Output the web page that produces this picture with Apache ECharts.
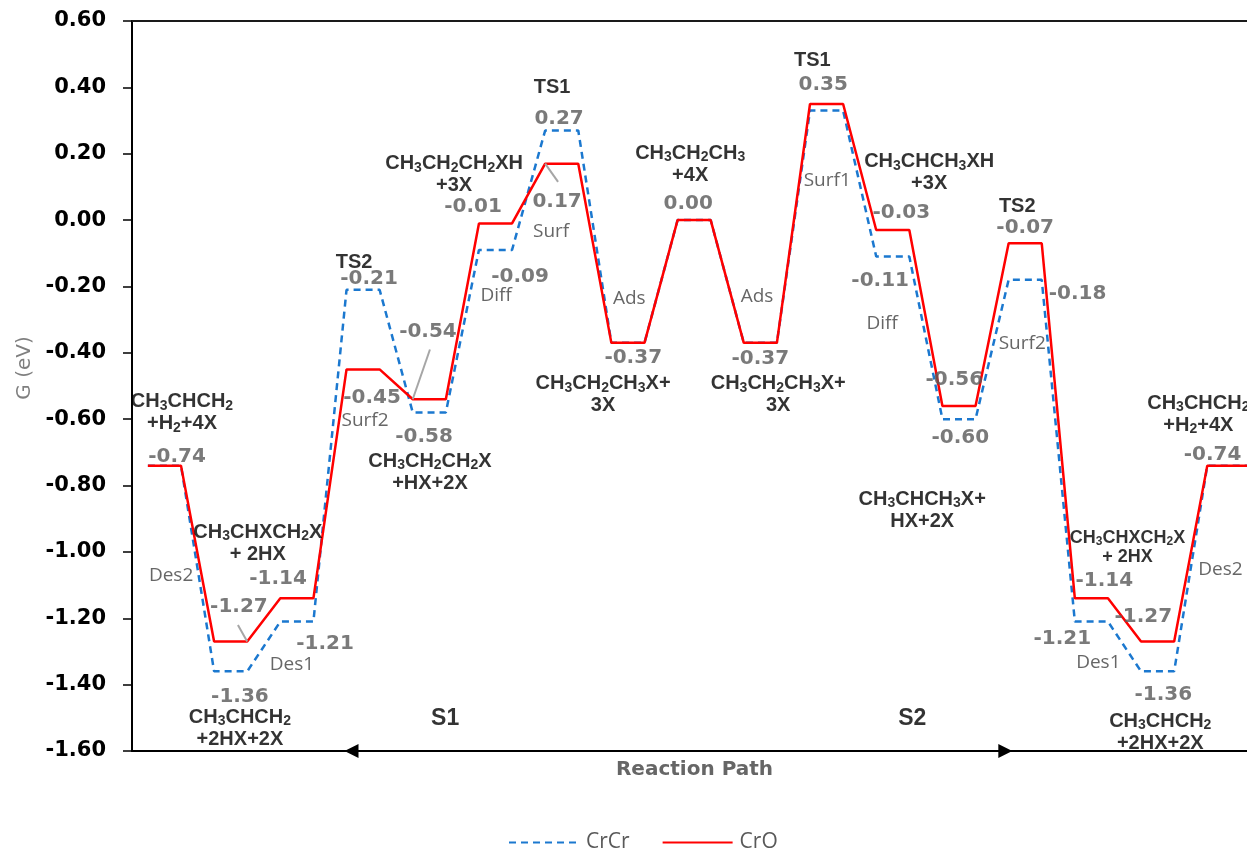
<!DOCTYPE html>
<html><head><meta charset="utf-8">
<script src="https://cdn.jsdelivr.net/npm/echarts@6/dist/echarts.min.js"></script>
<style>html,body{margin:0;padding:0;background:#fff}#c{width:1247px;height:850px}</style>
</head><body><div id="c"></div>
<script>
// ---- data ----
const pathX = [0,1,2,3,4,5,6,7,8,9,10,11,12,13,14,15,16,17,18,19,20,21,22,23,24,25,26,27,28,29,30,31,32,33.2];
const crCr = [-0.74,-0.74,-1.36,-1.36,-1.21,-1.21,-0.21,-0.21,-0.58,-0.58,-0.09,-0.09,0.27,0.27,-0.37,-0.37,0.00,0.00,-0.37,-0.37,0.33,0.33,-0.11,-0.11,-0.60,-0.60,-0.18,-0.18,-1.21,-1.21,-1.36,-1.36,-0.74,-0.74];
const crO  = [-0.74,-0.74,-1.27,-1.27,-1.14,-1.14,-0.45,-0.45,-0.54,-0.54,-0.01,-0.01,0.17,0.17,-0.37,-0.37,0.00,0.00,-0.37,-0.37,0.35,0.35,-0.03,-0.03,-0.56,-0.56,-0.07,-0.07,-1.14,-1.14,-1.27,-1.27,-0.74,-0.74];
const seriesNames = ['CrCr','CrO'];
const yMin = -1.6, yMax = 0.6, yStep = 0.2;
const xMin = -0.48, xMax = 33.2;

// annotations, in data coordinates [x, G, text]
const valueLabels = [
  [0.88,-0.714,'-0.74'],[2.75,-1.166,'-1.27'],[3.93,-1.082,'-1.14'],[5.35,-1.278,'-1.21'],[2.78,-1.438,'-1.36'],
  [6.68,-0.177,'-0.21'],[6.77,-0.536,'-0.45'],[8.46,-0.337,'-0.54'],[8.34,-0.654,'-0.58'],
  [9.82,0.040,'-0.01'],[11.24,-0.171,'-0.09'],[12.42,0.305,'0.27'],[12.36,0.055,'0.17'],
  [16.32,0.049,'0.00'],[14.66,-0.416,'-0.37'],[18.50,-0.419,'-0.37'],[20.40,0.408,'0.35'],
  [22.76,0.022,'-0.03'],[22.12,-0.184,'-0.11'],[26.50,-0.024,'-0.07'],[28.08,-0.223,'-0.18'],
  [24.36,-0.482,'-0.56'],[24.54,-0.657,'-0.60'],[32.16,-0.706,'-0.74'],[28.89,-1.088,'-1.14'],
  [30.07,-1.197,'-1.27'],[27.62,-1.263,'-1.21'],[30.67,-1.432,'-1.36']
];
const speciesLabels = [
  [1.03,-0.581,'CH3CHCH2\n+H2+4X'],
  [3.32,-0.974,'CH3CHXCH2X\n+ 2HX'],
  [2.78,-1.532,'CH3CHCH2\n+2HX+2X'],
  [9.25,0.136,'CH3CH2CH2XH\n+3X'],
  [16.38,0.169,'CH3CH2CH3\n+4X'],
  [8.52,-0.760,'CH3CH2CH2X\n+HX+2X'],
  [13.75,-0.527,'CH3CH2CH3X+\n3X'],
  [19.04,-0.527,'CH3CH2CH3X+\n3X'],
  [23.60,0.142,'CH3CHCH3XH\n+3X'],
  [23.39,-0.874,'CH3CHCH3X+\nHX+2X'],
  [31.73,-0.586,'CH3CHCH2\n+H2+4X'],
  [30.58,-1.544,'CH3CHCH2\n+2HX+2X']
];
const speciesSmallLabels = [
  [29.59,-0.986,'CH3CHXCH2X\n+ 2HX']
];
const tsLabels = [
  [6.23,-0.127,'TS2'],[12.21,0.399,'TS1'],[20.07,0.480,'TS1'],[26.26,0.040,'TS2']
];
const sectionLabels = [
  [8.98,-1.502,'S1'],[23.09,-1.502,'S2']
];
const stepLabels = [
  [0.70,-1.071,'Des2'],[4.35,-1.339,'Des1'],[6.56,-0.603,'Surf2'],[10.52,-0.229,'Diff'],
  [12.18,-0.036,'Surf'],[14.54,-0.238,'Ads'],[18.40,-0.232,'Ads'],[20.52,0.118,'Surf1'],
  [22.18,-0.313,'Diff'],[26.41,-0.371,'Surf2'],[28.71,-1.333,'Des1'],[32.40,-1.053,'Des2']
];
const leaderLines = [
  [[12,0.17],[12.39,0.115]],
  [[8.52,-0.39],[8,-0.54]],
  [[2.72,-1.22],[3,-1.27]]
];
const pathArrow = [6.15, 25.9];

// ---- chart ----
function chem(s){ return s.replace(/([A-Za-z])(\d+)/g, (m,a,d)=>a+'{s|'+d+'}'); }
const zip = (xs, ys) => xs.map((x,i)=>[x, ys[i]]);
const toPts = arr => arr.map(a => ({value:[a[0],a[1]], name:a[2]}));

function annot(name, arr, label){
  return {
    name, type:'scatter', data: toPts(arr), symbolSize:1, itemStyle:{color:'rgba(0,0,0,0)'},
    silent:true, clip:false, z:10,
    label: Object.assign({show:true, position:'inside', align:'center', verticalAlign:'middle'}, label)
  };
}
const subStyle = (size,color)=>({s:{fontFamily:'Liberation Sans', fontWeight:'bold', fontSize:size, color, verticalAlign:'bottom', lineHeight:11}});

const GRID = {left:132, right:0, top:21, bottom:99};
const chart = echarts.init(document.getElementById('c'), null, {renderer:'canvas'});
chart.setOption({
  animation:false,
  backgroundColor:'#fff',
  grid:Object.assign({containLabel:false}, GRID),
  legend:{
    data:seriesNames, left:503, top:827, itemWidth:70, itemHeight:14, itemGap:32,
    itemStyle:{opacity:0},
    textStyle:{fontFamily:'Open Sans', fontSize:21, color:'#595959', padding:[0,0,0,2]}
  },
  graphic:[{
    // top frame of the plot area
    type:'rect', silent:true, z:50, left:GRID.left, top:GRID.top - 1,
    shape:{width:1247 - GRID.left, height:2}, style:{fill:'#1a1a1a'}
  }],
  xAxis:{
    type:'value', min:xMin, max:xMax, position:'bottom',
    axisLine:{show:true, onZero:false, lineStyle:{color:'#000', width:2}},
    axisTick:{show:false}, axisLabel:{show:false}, splitLine:{show:false},
    name:'Reaction Path', nameLocation:'middle', nameGap:9,
    nameTextStyle:{fontFamily:'DejaVu Sans', fontWeight:'bold', fontSize:20, color:'#666', padding:[0,0,0,10]}
  },
  yAxis:{
    type:'value', min:yMin, max:yMax, interval:yStep,
    axisLine:{show:true, onZero:false, lineStyle:{color:'#000', width:2}},
    axisTick:{show:true, length:9, lineStyle:{color:'#000', width:1.5}},
    axisLabel:{margin:26, formatter:v=>v.toFixed(2), fontFamily:'DejaVu Sans', fontWeight:'bold', fontSize:21, color:'#000'},
    splitLine:{show:false},
    name:'G (eV)', nameLocation:'middle', nameGap:95,
    nameTextStyle:{fontFamily:'DejaVu Sans', fontSize:20, color:'#7f7f7f', padding:[0,0,0,36]}
  },
  series:[
    {name:seriesNames[0], type:'line', data:zip(pathX, crCr), symbol:'none', z:3,
     lineStyle:{color:'#1b78cf', width:2.5, type:[7,5]}, itemStyle:{color:'#1b78cf'}},
    {name:seriesNames[1], type:'line', data:zip(pathX, crO), symbol:'none', z:4,
     lineStyle:{color:'#ff0000', width:2.5}, itemStyle:{color:'#ff0000'}},
    {name:'leaders', type:'line', data:[], clip:false, silent:true, z:5,
     markLine:{silent:true, symbol:['none','none'], animation:false, label:{show:false},
       lineStyle:{color:'#a6a6a6', width:2, type:'solid'},
       data: leaderLines.map(l=>[{coord:l[0]},{coord:l[1]}])}},
    {name:'pathArrow', type:'line', data:[], clip:false, silent:true, z:6,
     markLine:{silent:true, symbol:['triangle','triangle'], symbolSize:14, animation:false, label:{show:false},
       lineStyle:{color:'#000', width:2, type:'solid'}, itemStyle:{color:'#000'},
       data:[[{coord:[pathArrow[0], yMin]},{coord:[pathArrow[1], yMin]}]]}},
    annot('values', valueLabels, {formatter:p=>p.name, fontFamily:'DejaVu Sans', fontWeight:'bold', fontSize:20, color:'#595959'}),
    annot('species', speciesLabels, {formatter:p=>chem(p.name), fontFamily:'Liberation Sans', fontWeight:'bold', fontSize:20, lineHeight:22, color:'#000', rich:subStyle(14,'#000')}),
    annot('speciesSmall', speciesSmallLabels, {formatter:p=>chem(p.name), fontFamily:'Liberation Sans', fontWeight:'bold', fontSize:18, lineHeight:19, color:'#000', rich:subStyle(12,'#000')}),
    annot('ts', tsLabels, {formatter:p=>p.name, fontFamily:'Liberation Sans', fontWeight:'bold', fontSize:20, color:'#000'}),
    annot('sections', sectionLabels, {formatter:p=>p.name, fontFamily:'Liberation Sans', fontWeight:'bold', fontSize:23, color:'#000'}),
    annot('steps', stepLabels, {formatter:p=>p.name, fontFamily:'Open Sans', fontSize:19, color:'#404040'})
  ]
});
</script></body></html>
